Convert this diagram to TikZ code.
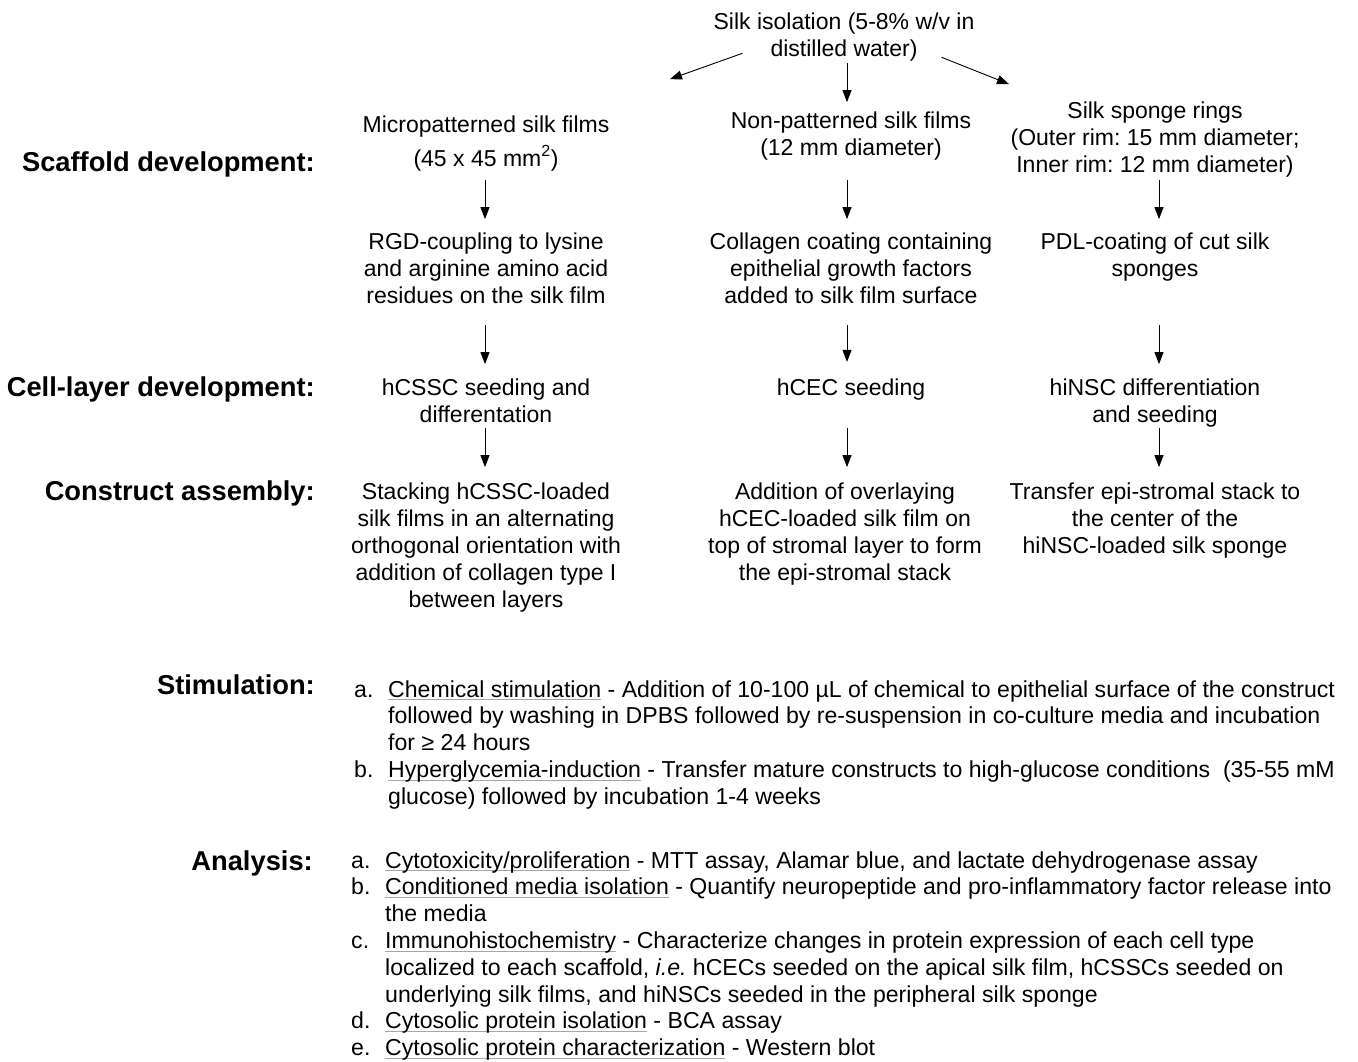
\documentclass[tikz,border=0pt]{standalone}
\usepackage{fontspec}
\setmainfont{Liberation Sans}
\usetikzlibrary{arrows.meta}
\frenchspacing
\newcommand\gul[1]{\setbox0\hbox{#1}\rlap{\color{black!35}\rule[-3pt]{\wd0}{0.9pt}}\box0{}}
\begin{document}
\begin{tikzpicture}[x=1pt,y=-1pt,
  txt/.style={font=\fontsize{23}{27}\selectfont, align=center, inner sep=0pt, anchor=base,
    execute at begin node=\strut, execute at end node=\strut},
  lbl/.style={font=\fontsize{27.3}{31}\selectfont\bfseries, inner sep=0pt, anchor=base east},
  lst/.style={font=\fontsize{23.1}{26.8}\selectfont, inner sep=0pt, anchor=base west},
  arr/.style={-{Triangle[length=12pt,width=9pt]}, line width=0.9pt}]
\useasboundingbox (0,0) rectangle (1358,1061);

% top (anchor = baseline of the last line)
\node[txt] (silk) at (844,56) {Silk isolation (5-8\% w/v in\\distilled water)};

% row 1
\node[txt] (m1) at (486,166) {Micropatterned silk films\\[7pt](45 x 45 mm\textsuperscript{2})};
\node[txt] (n1) at (851,155) {Non-patterned silk films\\(12 mm diameter)};
\node[txt] (s1) at (1155,172) {Silk sponge rings\\(Outer rim: 15 mm diameter;\\Inner rim: 12 mm diameter)};

% row 2
\node[txt] (m2) at (486,303) {RGD-coupling to lysine\\and arginine amino acid\\residues on the silk film};
\node[txt] (n2) at (851,303) {Collagen coating containing\\epithelial growth factors\\added to silk film surface};
\node[txt] (s2) at (1155,276) {PDL-coating of cut silk\\sponges};

% row 3
\node[txt] (m3) at (486,422) {hCSSC seeding and\\differentation};
\node[txt] (n3) at (851,395) {hCEC seeding};
\node[txt] (s3) at (1155,422) {hiNSC differentiation\\and seeding};

% row 4
\node[txt] (m4) at (486,607) {Stacking hCSSC-loaded\\silk films in an alternating\\orthogonal orientation with\\addition of collagen type I\\between layers};
\node[txt] (n4) at (845,580) {Addition of overlaying\\hCEC-loaded silk film on\\top of stromal layer to form\\the epi-stromal stack};
\node[txt] (s4) at (1155,553) {Transfer epi-stromal stack to\\the center of the\\hiNSC-loaded silk sponge};

% labels
\node[lbl] (lscaf) at (315,171) {Scaffold development:};
\node[lbl] (lcell) at (315,396) {Cell-layer development:};
\node[lbl] (lcons) at (315,500) {Construct assembly:};
\node[lbl] (lstim) at (315,694) {Stimulation:};
\node[lbl] (lana) at (313,870) {Analysis:};

% lists
\node[lst] (stim) at (354,697) {\begin{tabular}[t]{@{}p{34pt}@{}l@{}}
a. & \gul{Chemical stimulation} - Addition of 10-100 µL of chemical to epithelial surface of the construct\\
   & followed by washing in DPBS followed by re-suspension in co-culture media and incubation\\
   & for ≥ 24 hours\\
b. & \gul{Hyperglycemia-induction} - Transfer mature constructs to high-glucose conditions\ \ (35-55 mM\\
   & glucose) followed by incubation 1-4 weeks
\end{tabular}};

\node[lst] (ana) at (351,868) {\begin{tabular}[t]{@{}p{34pt}@{}l@{}}
a. & \gul{Cytotoxicity/proliferation} - MTT assay, Alamar blue, and lactate dehydrogenase assay\\
b. & \gul{Conditioned media isolation} - Quantify neuropeptide and pro-inflammatory factor release into\\
   & the media\\
c. & \gul{Immunohistochemistry} - Characterize changes in protein expression of each cell type\\
   & localized to each scaffold, \textit{i.e.} hCECs seeded on the apical silk film, hCSSCs seeded on\\
   & underlying silk films, and hiNSCs seeded in the peripheral silk sponge\\
d. & \gul{Cytosolic protein isolation} - BCA assay\\
e. & \gul{Cytosolic protein characterization} - Western blot
\end{tabular}};

% arrows from silk isolation
\draw[arr] ([xshift=29pt,yshift=11pt]silk.south west) -- ([xshift=184pt,yshift=36pt]m1.north);
\draw[arr] ([xshift=3pt,yshift=1pt]silk.south) -- ([xshift=-4pt,yshift=9pt]n1.north);
\draw[arr] ([xshift=-33pt,yshift=7pt]silk.south east) -- ([xshift=-146pt,yshift=17pt]s1.north);

% column arrows
\draw[arr] ([xshift=-1pt,yshift=-6pt]m1.south) -- ([xshift=-1pt,yshift=13pt]m2.north);
\draw[arr] ([xshift=-4pt,yshift=-17pt]n1.south) -- ([xshift=-4pt,yshift=13pt]n2.north);
\draw[arr] ([xshift=4pt,yshift=0pt]s1.south) -- ([xshift=4pt,yshift=13pt]s2.north);

\draw[arr] ([xshift=-1pt,yshift=-14pt]m2.south) -- ([xshift=-1pt,yshift=14pt]m3.north);
\draw[arr] ([xshift=-4pt,yshift=-14pt]n2.south) -- ([xshift=-4pt,yshift=14pt]n3.north);
\draw[arr] ([xshift=4pt,yshift=-41pt]s2.south) -- ([xshift=4pt,yshift=14pt]s3.north);

\draw[arr] ([xshift=-1pt,yshift=2pt]m3.south) -- ([xshift=-1pt,yshift=15pt]m4.north);
\draw[arr] ([xshift=-4pt,yshift=-25pt]n3.south) -- ([xshift=2pt,yshift=15pt]n4.north);
\draw[arr] ([xshift=4pt,yshift=2pt]s3.south) -- ([xshift=4pt,yshift=15pt]s4.north);
\end{tikzpicture}
\end{document}
